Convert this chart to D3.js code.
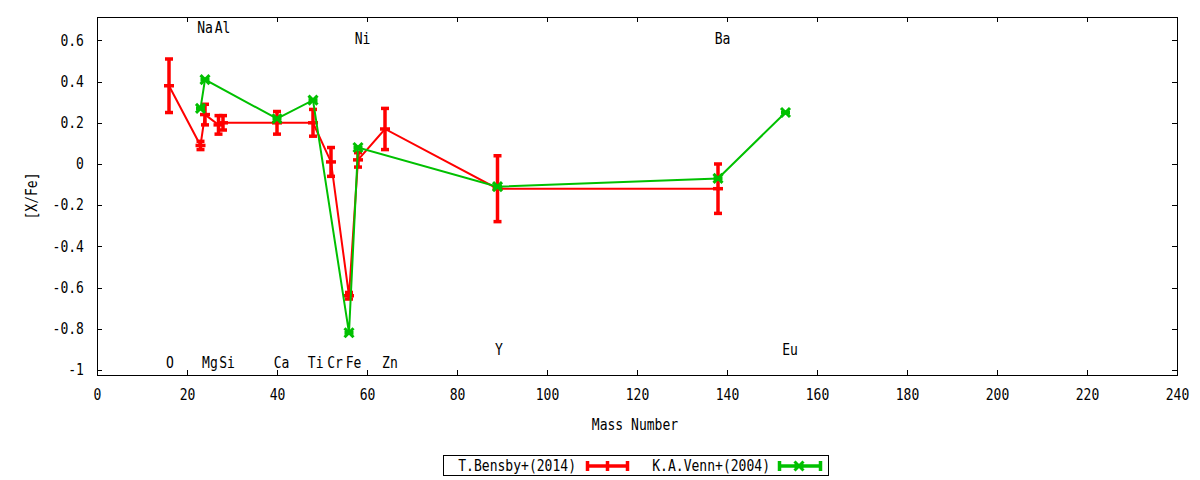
<!DOCTYPE html>
<html>
<head>
<meta charset="utf-8">
<script src="https://cdn.jsdelivr.net/npm/d3@7"></script>
<style>
  body { margin: 0; background: #fff; }
  svg { display: block; }
  text { font-family: "DejaVu Sans Mono", monospace; font-size: 15px; fill: #000; }
</style>
</head>
<body>
<svg id="chart" width="1200" height="480"></svg>
<script>
// T.Bensby+(2014)
const massBensby = [16, 23, 24, 27, 28, 40, 48, 52, 56, 58, 64, 89, 138];
const xfeBensby = [0.38, 0.09, 0.24, 0.19, 0.20, 0.20, 0.20, 0.01, -0.64, 0.02, 0.17, -0.12, -0.12];
const errBensby = [0.13, 0.02, 0.05, 0.045, 0.035, 0.055, 0.065, 0.07, 0.016, 0.035, 0.10, 0.16, 0.12];

// K.A.Venn+(2004)
const massVenn = [23, 24, 40, 48, 56, 58, 89, 138, 153];
const xfeVenn = [0.27, 0.41, 0.22, 0.31, -0.82, 0.08, -0.11, -0.07, 0.25];

// element labels written inside the plot
const elemNames = ['O', 'Na', 'Mg', 'Al', 'Si', 'Ca', 'Ti', 'Cr', 'Fe', 'Ni', 'Zn', 'Y', 'Ba', 'Eu'];
const elemX = [16.2, 24, 25.1, 27.9, 28.9, 41, 48.6, 52.9, 57, 59, 65.1, 89.3, 139, 154];
const elemY = [-0.965, 0.66, -0.965, 0.66, -0.965, -0.965, -0.965, -0.965, -0.965, 0.61, -0.965, -0.90, 0.61, -0.90];

const xTicks = [0, 20, 40, 60, 80, 100, 120, 140, 160, 180, 200, 220, 240];
const yTicks = [-1, -0.8, -0.6, -0.4, -0.2, 0, 0.2, 0.4, 0.6];

const RED = '#ff0000';
const GREEN = '#00c000';
const SX = 0.87; // narrow glyphs like the original

const svg = d3.select('#chart');
const plotL = 97, plotR = 1177, plotT = 17, plotB = 375;

const x = d3.scaleLinear().domain([0, 240]).range([plotL, plotR]);
const y = d3.scaleLinear().domain([-1.025, 0.714]).range([plotB, plotT]);

function label(g, px, py, str, anchor) {
    return g.append('text')
        .attr('transform', `translate(${px},${py}) scale(${SX},1)`)
        .attr('text-anchor', anchor || 'middle')
        .attr('dominant-baseline', 'central')
        .text(str);
}

const fmt = d => String(+d.toFixed(1));

// axes, ticks pointing inward
const gx = svg.append('g').attr('transform', `translate(0,${plotB})`)
    .call(d3.axisBottom(x).tickValues(xTicks).tickFormat(fmt).tickSizeInner(-5).tickSizeOuter(0).tickPadding(14));
const gy = svg.append('g').attr('transform', `translate(${plotL},0)`)
    .call(d3.axisLeft(y).tickValues(yTicks).tickFormat(fmt).tickSizeInner(-5).tickSizeOuter(0).tickPadding(15));
svg.append('g').attr('transform', `translate(0,${plotT})`)
    .call(d3.axisTop(x).tickValues(xTicks).tickFormat('').tickSizeInner(-5).tickSizeOuter(0));
svg.append('g').attr('transform', `translate(${plotR},0)`)
    .call(d3.axisRight(y).tickValues(yTicks).tickFormat('').tickSizeInner(-5).tickSizeOuter(0));

svg.selectAll('.domain').remove();
svg.selectAll('.tick line').attr('stroke', '#000').attr('shape-rendering', 'crispEdges');
svg.selectAll('.tick text')
    .attr('font-family', '"DejaVu Sans Mono", monospace')
    .attr('font-size', 15)
    .attr('transform', `scale(${SX},1)`);
gy.selectAll('.tick text').attr('x', -15);

svg.append('rect')
    .attr('x', plotL).attr('y', plotT)
    .attr('width', plotR - plotL).attr('height', plotB - plotT)
    .attr('fill', 'none').attr('stroke', '#000').attr('stroke-width', 1)
    .attr('shape-rendering', 'crispEdges');

// axis titles
label(svg, 635, 425, 'Mass Number');
label(svg, 32, 196, '[X/Fe]').attr('transform', `translate(32,196) rotate(-90) scale(${SX},1)`);

// element labels
const gl = svg.append('g');
elemNames.forEach((n, i) => label(gl, x(elemX[i]), y(elemY[i]), n));

// Bensby series: line + error bars + "+" marks
const bensby = massBensby.map((m, i) => ({ m, v: xfeBensby[i], e: errBensby[i] }));
const venn = massVenn.map((m, i) => ({ m, v: xfeVenn[i] }));

const line = d3.line().x(d => x(d.m)).y(d => y(d.v));

svg.append('path').datum(bensby)
    .attr('d', line).attr('fill', 'none')
    .attr('stroke', RED).attr('stroke-width', 2);

const gb = svg.append('g').attr('stroke', RED).attr('stroke-width', 3.5);
gb.selectAll('.bar').data(bensby).join('line').attr('class', 'bar')
    .attr('x1', d => x(d.m)).attr('x2', d => x(d.m))
    .attr('y1', d => y(d.v + d.e)).attr('y2', d => y(d.v - d.e));
gb.selectAll('.capT').data(bensby).join('line').attr('class', 'capT')
    .attr('x1', d => x(d.m) - 4).attr('x2', d => x(d.m) + 4)
    .attr('y1', d => y(d.v + d.e)).attr('y2', d => y(d.v + d.e));
gb.selectAll('.capB').data(bensby).join('line').attr('class', 'capB')
    .attr('x1', d => x(d.m) - 4).attr('x2', d => x(d.m) + 4)
    .attr('y1', d => y(d.v - d.e)).attr('y2', d => y(d.v - d.e));
gb.selectAll('.pt').data(bensby).join('line').attr('class', 'pt')
    .attr('x1', d => x(d.m) - 5).attr('x2', d => x(d.m) + 5)
    .attr('y1', d => y(d.v)).attr('y2', d => y(d.v));

// Venn series: line + x marks
svg.append('path').datum(venn)
    .attr('d', line).attr('fill', 'none')
    .attr('stroke', GREEN).attr('stroke-width', 2);

function greenMark(g, cx, cy) {
    g.append('line').attr('x1', cx - 4.5).attr('x2', cx + 4.5).attr('y1', cy).attr('y2', cy)
        .attr('stroke-width', 4);
    g.append('line').attr('x1', cx - 4.5).attr('x2', cx + 4.5).attr('y1', cy - 4.5).attr('y2', cy + 4.5);
    g.append('line').attr('x1', cx - 4.5).attr('x2', cx + 4.5).attr('y1', cy + 4.5).attr('y2', cy - 4.5);
}
const gv = svg.append('g').attr('stroke', GREEN).attr('stroke-width', 3);
venn.forEach(d => greenMark(gv, x(d.m), y(d.v)));

// legend
const leg = svg.append('g');
leg.append('rect').attr('x', 443.5).attr('y', 455.5).attr('width', 385).attr('height', 20)
    .attr('fill', '#fff').attr('stroke', '#000').attr('stroke-width', 1);
const ly = 466;
label(leg, 576, ly, 'T.Bensby+(2014)', 'end');
label(leg, 770, ly, 'K.A.Venn+(2004)', 'end');

const lr = leg.append('g').attr('stroke', RED).attr('stroke-width', 3.5);
lr.append('line').attr('x1', 586).attr('x2', 629).attr('y1', ly).attr('y2', ly);
[587.5, 607.5, 627.5].forEach(cx =>
    lr.append('line').attr('x1', cx).attr('x2', cx).attr('y1', ly - 5).attr('y2', ly + 5));

const lg = leg.append('g').attr('stroke', GREEN).attr('stroke-width', 3.5);
lg.append('line').attr('x1', 778).attr('x2', 822).attr('y1', ly).attr('y2', ly);
[779.5, 820.5].forEach(cx =>
    lg.append('line').attr('x1', cx).attr('x2', cx).attr('y1', ly - 5).attr('y2', ly + 5));
const lgm = leg.append('g').attr('stroke', GREEN).attr('stroke-width', 3);
greenMark(lgm, 799, ly);
</script>
</body>
</html>
